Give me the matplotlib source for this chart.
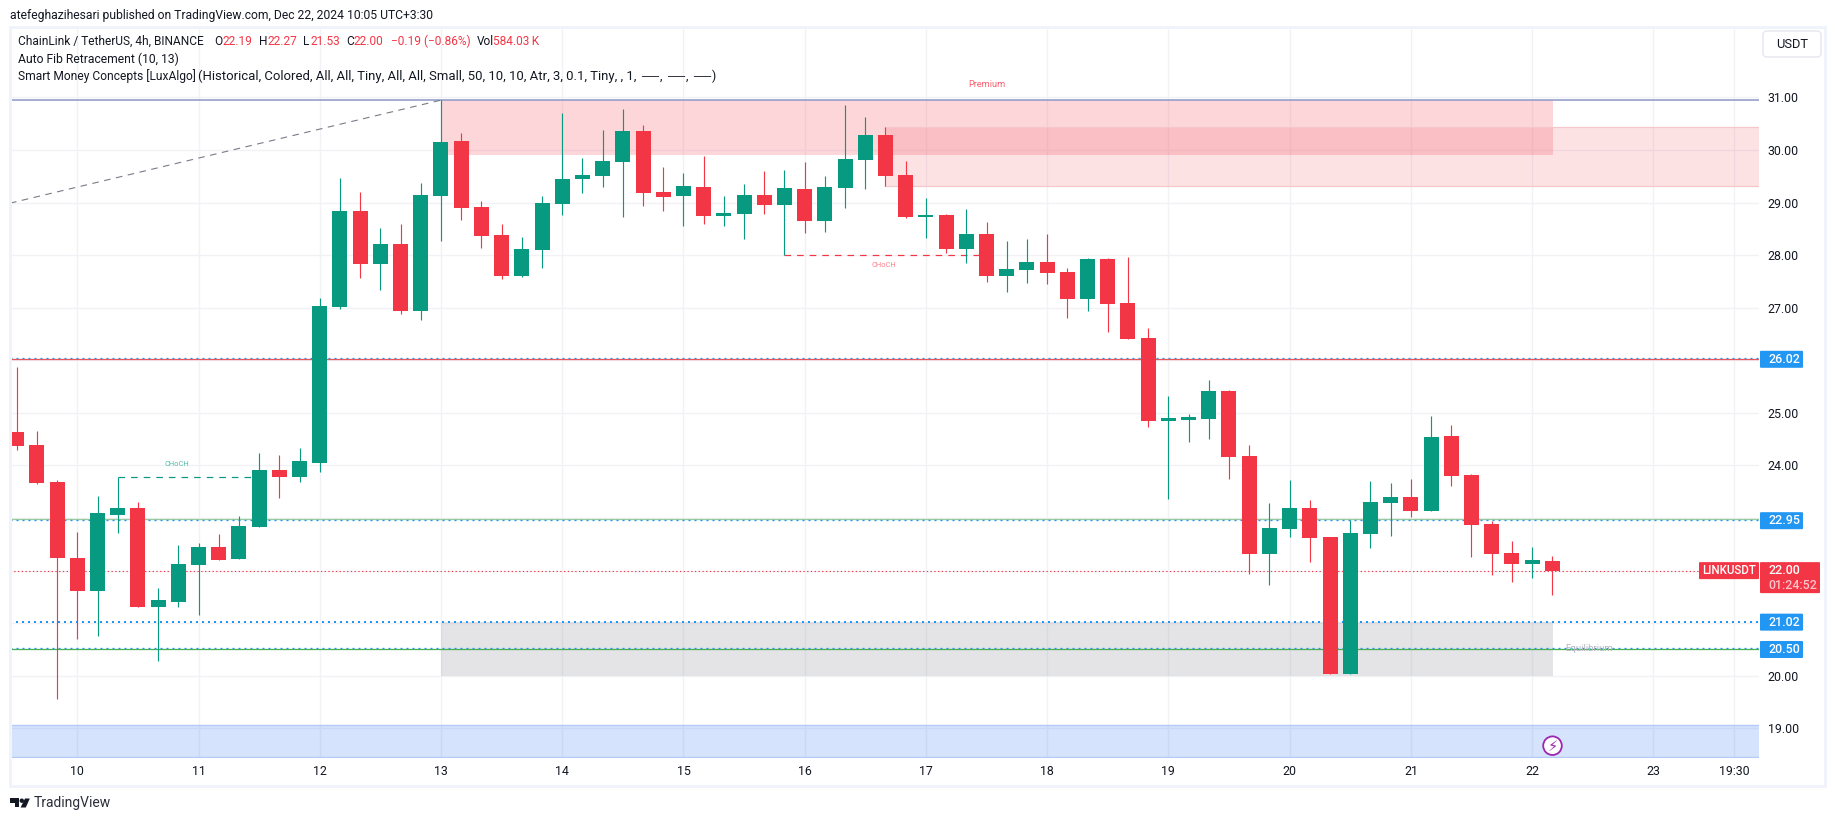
import numpy as np
import matplotlib
matplotlib.use("Agg")
import matplotlib.pyplot as plt
from matplotlib.patches import Polygon, Circle, FancyBboxPatch, Rectangle

plt.rcParams['font.family'] = ['Roboto', 'DejaVu Sans']

# ---- data -------------------------------------------------------------
first_bar = -3          # bars are counted from 10 Dec 00:00 in 4h steps
opens = [24.64,24.39,23.69,22.24,21.61,23.06,23.19,21.31,21.40,22.11,22.45,22.22,22.83,23.91,23.78,24.05,
         27.01,28.84,27.83,28.21,26.94,29.13,30.17,28.92,28.39,27.61,28.10,28.97,29.45,29.51,29.77,30.36,
         29.20,29.13,29.30,28.75,28.78,29.15,28.96,29.26,28.65,29.28,29.81,30.29,29.53,28.73,28.77,28.12,
         28.40,27.61,27.72,27.87,27.68,27.17,27.93,27.09,26.43,24.85,24.87,24.88,25.42,24.18,22.32,22.79,
         23.19,22.64,20.03,22.70,23.29,23.40,23.13,24.56,23.82,22.89,22.34,22.13,22.19]
highs = [25.87,24.66,23.72,22.74,23.42,23.78,23.31,21.67,22.49,22.53,22.70,23.04,24.24,24.20,24.33,27.18,
         29.47,29.20,28.52,28.59,29.37,30.95,30.33,29.03,28.59,28.35,29.13,30.71,29.85,30.38,30.78,30.48,
         29.68,29.56,29.89,29.13,29.36,29.60,29.62,29.77,29.51,30.86,30.63,30.44,29.79,29.09,28.78,28.88,
         28.63,28.27,28.31,28.40,27.76,27.95,27.95,27.97,26.62,25.32,24.98,25.63,25.44,24.39,23.29,23.72,
         23.34,22.64,22.96,23.71,23.67,23.74,24.94,24.77,23.84,22.94,22.56,22.45,22.27]
lows = [24.30,23.65,19.56,20.70,20.76,22.72,21.31,20.28,21.31,21.16,22.20,22.22,22.83,23.38,23.69,23.88,
        26.98,27.57,27.34,26.88,26.77,28.27,28.67,28.14,27.55,27.59,27.76,28.77,29.18,29.30,28.73,28.94,
        28.84,28.56,28.59,28.56,28.31,28.78,28.00,28.42,28.44,28.90,29.26,29.32,28.71,28.33,28.04,27.85,
        27.49,27.30,27.47,27.45,26.81,26.94,26.54,26.41,24.73,23.36,24.45,24.50,23.74,21.94,21.73,22.64,
        22.16,20.03,20.03,22.43,22.66,23.02,23.13,23.61,22.26,21.92,21.78,21.86,21.53]
closes = [24.37,23.67,22.24,21.61,23.10,23.19,21.31,21.44,22.13,22.45,22.20,22.85,23.91,23.78,24.09,27.03,
          28.84,27.83,28.21,26.94,29.15,30.15,28.90,28.37,27.61,28.12,28.99,29.45,29.53,29.79,30.36,29.18,
          29.11,29.32,28.75,28.80,29.15,28.96,29.28,28.65,29.30,29.83,30.29,29.51,28.73,28.77,28.12,28.40,
          27.61,27.74,27.87,27.66,27.17,27.93,27.07,26.41,24.85,24.90,24.92,25.42,24.16,22.32,22.81,23.19,
          22.62,20.03,22.72,23.31,23.40,23.13,24.54,23.80,22.87,22.32,22.13,22.20,22.00]

day_ticks = [0, 6, 12, 18, 24, 30, 36, 42, 48, 54, 60, 66, 72, 78, 82]
day_labels = ['10','11','12','13','14','15','16','17','18','19','20','21','22','23','19:30']
price_ticks = [19,20,21,22,23,24,25,26,27,28,29,30,31]
price_labels = ['19.00','20.00','','','','24.00','25.00','','27.00','28.00','29.00','30.00','31.00']

level_top = 30.95
fib_red = 26.02
fib_light_green = 22.976
fib_green = 20.50
blue_levels = [26.04, 22.957, 21.02, 20.52]
blue_widths = [1.3, 1.3, 2.0, 1.3]
blue_tags = ['26.02', '22.95', '21.02', '20.50']
last_price = 22.00

premium_zone = (18, 73.03, 29.91, 30.95)
supply_zone = (40, 29.32, 30.44)
equilibrium_zone = (18, 73.03, 20.00, 21.03)
demand_zone_top = 19.06
choch_up = (2, 9, 23.775)
choch_down = (35, 45, 28.004)
fib_trend = (28.99, 30.95)

GREEN, RED = '#089981', '#f23645'
BLUE = '#2196f3'
INK = '#131722'
GRID = '#f1f2f6'
FRAME = '#f0f3fa'

W, H = 1835, 821
px = 0.72  # one pixel in points
fig = plt.figure(figsize=(W/100, H/100), dpi=100, facecolor='white')

# px geometry of the pane
L, R, T, B = 10, 1759, 26.7, 757.7
ax = fig.add_axes([L/W, 1-B/H, (R-L)/W, (B-T)/H])
X0, DX = 77.3, 20.205
Y31, DY = 97.5, 52.57
ax.set_xlim((L-X0)/DX, (R-X0)/DX)
ax.set_ylim(31-(B-Y31)/DY, 31+(Y31-T)/DY)
for s in ax.spines.values():
    s.set_visible(False)
ax.set_axisbelow(True)
ax.grid(True, color=GRID, lw=1.4*px)
ax.yaxis.tick_right()
ax.set_yticks(price_ticks, price_labels)
ax.set_xticks(day_ticks, day_labels)
ax.tick_params(axis='y', length=0, pad=6.2, labelsize=8.9, labelcolor=INK)
ax.tick_params(axis='x', length=0, pad=5.2, labelsize=8.9, labelcolor=INK)

xmin, xmax = ax.get_xlim()
ymin, ymax = ax.get_ylim()

# zones
ax.fill_between(premium_zone[:2], premium_zone[2], premium_zone[3], color=RED, alpha=0.2, lw=0, zorder=1)
ax.fill_between([supply_zone[0], xmax], supply_zone[1], supply_zone[2], color=RED, alpha=0.14, lw=0, zorder=1)
for yy in supply_zone[1:]:
    ax.plot([supply_zone[0], xmax], [yy, yy], color='#f5c6ca', lw=1.2*px, zorder=1.1)
ax.fill_between(equilibrium_zone[:2], equilibrium_zone[2], equilibrium_zone[3], color='#787b86', alpha=0.2, lw=0, zorder=1)
ax.fill_between([xmin, xmax], ymin, demand_zone_top, color='#276cf4', alpha=0.19, lw=0, zorder=1)
ax.plot([xmin, xmax], [demand_zone_top]*2, color='#b3caf5', lw=1.4*px, zorder=1.1)
ax.plot([xmin, xmax], [ymin+0.006]*2, color='#b3caf5', lw=1.4*px, zorder=1.1)

# horizontal levels
ax.axhline(level_top, color='#8a97c4', lw=1.5*px, zorder=2)
ax.axhline(fib_red, color='#ef5350', lw=1.3*px, zorder=2)
ax.axhline(fib_light_green, color='#9ccc9c', lw=1.3*px, zorder=2)
ax.axhline(fib_green, color='#4caf50', lw=1.3*px, zorder=2)
for lv, w in zip(blue_levels, blue_widths):
    ax.plot([xmin, xmax], [lv, lv], color=BLUE, lw=w*px, ls=(0, (2/w, 4/w)), zorder=2.1)
ax.plot([xmin, xmax], [last_price]*2, color=RED, lw=1.1*px, ls=(0, (1.2, 2.2)), zorder=2.1)

# trend line and CHoCH
ax.plot([xmin, premium_zone[0]], fib_trend, color='#787b86', lw=1.1*px, ls=(0, (6, 5)), zorder=2)
ax.plot(choch_up[:2], [choch_up[2]]*2, color=GREEN, lw=1.2*px, ls=(0, (5.5, 5)), zorder=2)
ax.plot(choch_down[:2], [choch_down[2]]*2, color=RED, lw=1.2*px, ls=(0, (5.5, 5)), zorder=2)

# candles
o, h, l, c = map(np.array, (opens, highs, lows, closes))
k = np.arange(first_bar, first_bar+len(o))
col = np.where(c >= o, GREEN, RED)
col[(c == o)] = RED
ax.vlines(k, l, h, colors=col, lw=1.15*px, zorder=3)
ax.bar(k, np.abs(c-o), bottom=np.minimum(o, c), width=15/DX, color=col, lw=0, zorder=3.1)

# overlay in pixel space for chrome
ov = fig.add_axes([0, 0, 1, 1], zorder=5)
ov.set_xlim(0, W); ov.set_ylim(H, 0); ov.axis('off'); ov.patch.set_alpha(0)
ov.add_patch(Rectangle((10, 26.7), 1815, 759, fill=False, ec=FRAME, lw=3*px))

FS = 8.7
def t(x, y, s, color=INK, size=FS, ha='left', **kw):
    return ov.text(x, y, s, color=color, fontsize=size, ha=ha, va='center', **kw)

t(10, 15, 'atefeghazihesari published on TradingView.com, Dec 22, 2024 10:05 UTC+3:30')
t(18, 41.7, 'ChainLink / TetherUS, 4h, BINANCE', size=8.6)
for x, s, cc in [(214.7,'O',INK),(222,'22.19',RED),(259,'H',INK),(267,'22.27',RED),(303.4,'L',INK),(310,'21.53',RED),
                 (346.6,'C',INK),(353.5,'22.00',RED),(390.7,'\u22120.19 (\u22120.86%)',RED),(477,'Vol',INK),(493,'584.03\u2009K',RED)]:
    t(x, 41.7, s, color=cc, size=8.6)
t(18, 59, 'Auto Fib Retracement (10, 13)')
t(18, 76, 'Smart Money Concepts [LuxAlgo]', size=8.65)
t(198, 76, '(Historical, Colored, All, All, Tiny, All, All, Small, 50, 10, 10, Atr, 3, 0.1, Tiny, , 1,', size=9.45)
for x in (641, 667.5, 693.5):
    t(x, 77, '\u2500\u2500\u2500', size=7.2, family=['DejaVu Sans'])
for x, s in ((660, ','), (686, ','), (711.5, ')')):
    t(x, 76, s, size=8.95)

# small labels on chart
t(986.7, 84.7, 'Premium', color='#f6606e', size=6.6, ha='center')
t(884.3, 265.7, 'CHoCH', color='#f8808b', size=5.4, ha='center')
t(177, 464.3, 'CHoCH', color='#52bda9', size=5.4, ha='center')
t(1589, 648.5, 'Equilibrium', color='#b2b5be', size=6.8, ha='center')

# USDT button
ov.add_patch(FancyBboxPatch((1764.5, 32.5), 55, 23, boxstyle='round,pad=1.5,rounding_size=4', fc='white', ec='#e6e8ef', lw=1.4*px))
t(1792, 44, 'USDT', size=9.3, ha='center')

# price tags
def ptag(y, s):
    ov.add_patch(FancyBboxPatch((1760.5, y-8), 42, 16, boxstyle='round,pad=0.5,rounding_size=1', fc=BLUE, ec='none'))
    t(1768, y+0.2, s, color='white', size=8.9, fontweight='medium')
for lv in blue_tags:
    ptag(Y31+(31-float(lv))*DY, lv)

yy = Y31+(31-last_price)*DY
ov.add_patch(FancyBboxPatch((1699.5, yy-8), 59, 16, boxstyle='round,pad=0.5,rounding_size=1', fc=RED, ec='none'))
t(1729, yy+0.2, 'LINKUSDT', color='white', size=8.3, ha='center', fontweight='medium')
ov.add_patch(FancyBboxPatch((1760.5, yy-8), 59, 30, boxstyle='round,pad=0.5,rounding_size=1', fc=RED, ec='none'))
t(1768, yy+0.2, '22.00', color='white', size=8.9, fontweight='medium')
t(1768, yy+15, '01:24:52', color='#fcc4ca', size=8.9, fontweight='medium')

# lightning badge
ov.add_patch(Circle((1552.5, 745.7), 9.3, fc='white', ec='#9c27b0', lw=1.4*px+0.3))
ov.text(1552.5, 745.9, '\u26a1', color='#9c27b0', fontsize=10.5, ha='center', va='center', family=['DejaVu Sans'])

# TradingView logo
logo = '#131722'
ov.add_patch(Polygon([(10,798.5),(19.2,798.5),(19.2,807.5),(14.6,807.5),(14.6,802.9),(10,802.9)], fc=logo, ec='none'))
ov.add_patch(Circle((21.8,800.7), 2.2, fc=logo, ec='none'))
ov.add_patch(Polygon([(25,798.5),(29.8,798.5),(25.8,807.5),(20.6,807.5)], fc=logo, ec='none'))
t(33.5, 803.5, 'TradingView', color='#2a2e39', size=10.0)

fig.savefig('out.png', dpi=100, facecolor='white')
